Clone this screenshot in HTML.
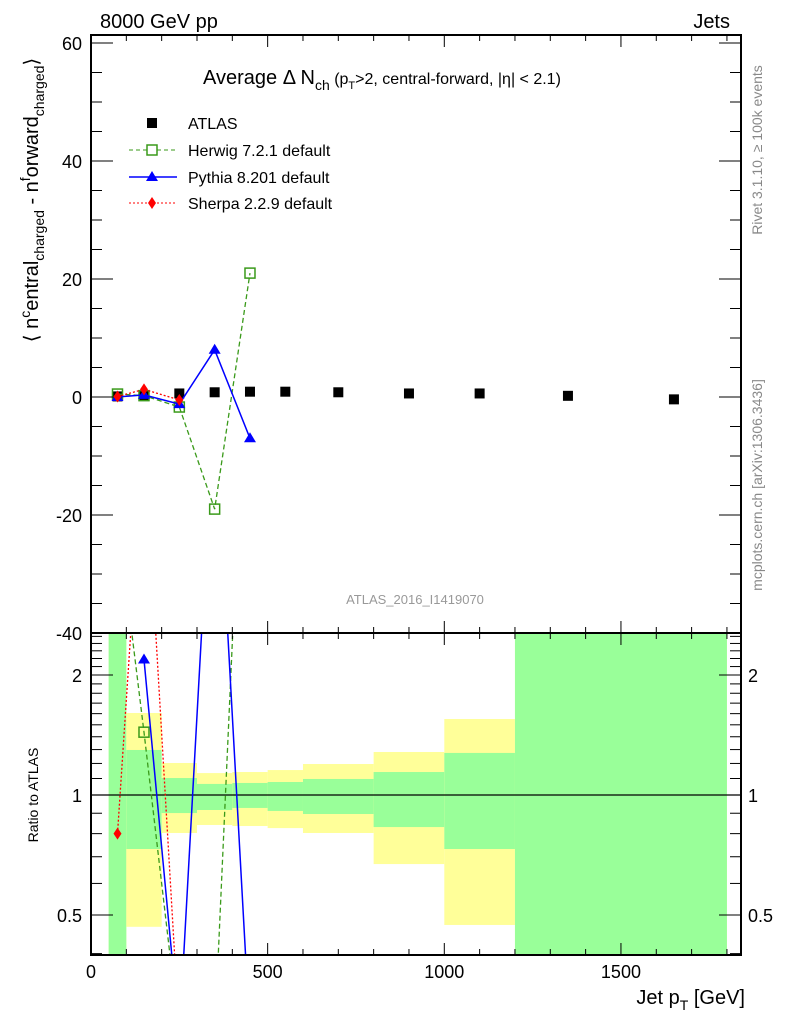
<!DOCTYPE html>
<html><head><meta charset="utf-8"><style>
html,body{margin:0;background:#fff;overflow:hidden;width:786px;height:1024px}
svg{display:block;font-family:"Liberation Sans",sans-serif;overflow:hidden}
</style></head><body>
<svg id="c" width="786" height="1024" viewBox="0 0 786 1024">
<defs>
<clipPath id="cm"><rect x="91" y="35" width="650" height="598"/></clipPath>
<clipPath id="cr"><rect x="91" y="633" width="650" height="322"/></clipPath>
</defs>
<g id="ratioBands" clip-path="url(#cr)"></g>
<g id="ratioLines" clip-path="url(#cr)"></g>
<g id="mainMarks" clip-path="url(#cm)"></g>
<g id="axes"></g>
<text x="100" y="28" font-size="20">8000 GeV pp</text>
<text x="730" y="28" font-size="20" text-anchor="end">Jets</text>
<text x="203" y="84" font-size="20">Average Δ N<tspan font-size="14" dy="6">ch</tspan><tspan dy="-6" font-size="16"> (p</tspan><tspan font-size="11" dy="5">T</tspan><tspan font-size="16" dy="-5">&gt;2, central-forward, |η| &lt; 2.1)</tspan></text>
<g font-size="16">
<rect x="147" y="118" width="10" height="10" fill="#000"/><text x="188" y="129">ATLAS</text>
<line x1="129" y1="150" x2="175" y2="150" stroke="#3a9a1a" stroke-dasharray="4,3"/><rect x="147" y="145" width="10" height="10" fill="#fff" stroke="#3a9a1a" stroke-width="1.5"/><text x="188" y="156">Herwig 7.2.1 default</text>
<line x1="129" y1="177" x2="177" y2="177" stroke="#00f" stroke-width="1.5"/><polygon points="152,171 158,181 146,181" fill="#00f"/><text x="188" y="183">Pythia 8.201 default</text>
<line x1="129" y1="203" x2="177" y2="203" stroke="#f00" stroke-dasharray="2,2"/><polygon points="152,197 156,203 152,209 148,203" fill="#f00"/><text x="188" y="209">Sherpa 2.2.9 default</text>
</g>
<text x="415" y="604" font-size="13" fill="#999" text-anchor="middle">ATLAS_2016_I1419070</text>
<text transform="translate(38,200) rotate(-90)" font-size="20" text-anchor="middle">⟨ n<tspan dy="-8" font-size="14">c</tspan><tspan dy="8">entral</tspan><tspan font-size="14" dy="6">charged</tspan><tspan dy="-6"> - n</tspan><tspan dy="-8" font-size="14">f</tspan><tspan dy="8">orward</tspan><tspan font-size="14" dy="6">charged</tspan><tspan dy="-6">⟩</tspan></text>
<text transform="translate(38,795) rotate(-90)" font-size="14" text-anchor="middle">Ratio to ATLAS</text>
<text x="745" y="1004" font-size="20" text-anchor="end">Jet p<tspan font-size="14" dy="6">T</tspan><tspan dy="-6"> [GeV]</tspan></text>
<text transform="translate(762,150) rotate(-90)" font-size="14" fill="#888" text-anchor="middle">Rivet 3.1.10, ≥ 100k events</text>
<text transform="translate(762,485) rotate(-90)" font-size="14" fill="#888" text-anchor="middle">mcplots.cern.ch [arXiv:1306.3436]</text>
</svg>
<script>
const xBins=[75,150,250,350,450,550,700,900,1100,1350,1650];
const atlasVals=[0.1,0.16,0.6,0.8,0.9,0.9,0.8,0.6,0.6,0.2,-0.4];
const herwigX=[75,150,250,350,450];
const herwigVals=[0.5,0.23,-1.7,-19,21];
const pythiaX=[75,150,250,350,450];
const pythiaVals=[0,0.35,-1.2,8,-7];
const sherpaX=[75,150,250];
const sherpaVals=[0.08,1.3,-0.5];
const bandEdges=[50,100,200,300,400,500,600,800,1000,1200,1800];
const yellowHi=[3,1.606,1.203,1.135,1.142,1.155,1.196,1.282,1.551,3];
const yellowLo=[0.3,0.467,0.803,0.841,0.836,0.826,0.803,0.671,0.472,0.3];
const greenHi=[3,1.297,1.103,1.066,1.072,1.078,1.097,1.142,1.275,3];
const greenLo=[0.3,0.732,0.901,0.917,0.928,0.912,0.896,0.831,0.732,0.3];
const xTicks=[0,500,1000,1500];
const yTicks=[-40,-20,0,20,40,60];
const rTicks=[0.5,1,2];

const NS="http://www.w3.org/2000/svg";
const X=v=>91+v*0.3533;
const Y=v=>397-v*5.9;
const R=v=>795-Math.log10(Math.min(Math.max(v,0.25),100))*398.6;
function mk(p,t,a){const e=document.createElementNS(NS,t);for(const k in a)e.setAttribute(k,a[k]);p.appendChild(e);return e;}
const gb=document.getElementById('ratioBands'),gl=document.getElementById('ratioLines'),gm=document.getElementById('mainMarks'),ga=document.getElementById('axes');

for(let i=0;i<yellowHi.length;i++){
 const x0=X(bandEdges[i]),w=X(bandEdges[i+1])-x0;
 const y=mk(gb,'rect',{x:x0,y:R(yellowHi[i]),width:w,height:R(yellowLo[i])-R(yellowHi[i]),fill:'#ffff99'});
 
 
 const g=mk(gb,'rect',{x:x0,y:R(greenHi[i]),width:w,height:R(greenLo[i])-R(greenHi[i]),fill:'#99ff99'});
 
 
}
mk(gl,'line',{x1:91,x2:741,y1:R(1),y2:R(1),stroke:'#000','stroke-width':1.2});

const series=[
 {xs:herwigX,vs:herwigVals,c:'#3a9a1a',dash:'5,3',w:1.3,m:'sq',n:'herwig'},
 {xs:pythiaX,vs:pythiaVals,c:'#00f',dash:'',w:1.5,m:'tri',n:'pythia'},
 {xs:sherpaX,vs:sherpaVals,c:'#f00',dash:'2,2',w:1.3,m:'dia',n:'sherpa'}];
function marker(p,m,cx,cy,c){
 let e;
 if(m==='sq')e=mk(p,'rect',{x:cx-5,y:cy-5,width:10,height:10,fill:'none',stroke:c,'stroke-width':1.5});
 else if(m==='tri')e=mk(p,'polygon',{points:`${cx},${cy-6} ${cx+6},${cy+4} ${cx-6},${cy+4}`,fill:c});
 else e=mk(p,'polygon',{points:`${cx},${cy-6} ${cx+4},${cy} ${cx},${cy+6} ${cx-4},${cy}`,fill:c});
 return e;
}
xBins.forEach((x,i)=>{const r=mk(gm,'rect',{x:X(x)-5,y:Y(atlasVals[i])-5,width:10,height:10,fill:'#000'});
 
 });
series.forEach(s=>{
 const pts=s.xs.map((x,i)=>X(x)+','+Y(s.vs[i])).join(' ');
 const l=mk(gm,'polyline',{points:pts,fill:'none',stroke:s.c,'stroke-width':s.w,'stroke-dasharray':s.dash});
 
 
 s.xs.forEach((x,i)=>{const e=marker(gm,s.m,X(x),Y(s.vs[i]),s.c);
  
  });
 const rp=[];
 s.xs.forEach((x,i)=>{if(s.vs[i]===0)return;const r=s.vs[i]/atlasVals[i];rp.push(X(x)+','+R(r));});
 const rl=mk(gl,'polyline',{points:rp.join(' '),fill:'none',stroke:s.c,'stroke-width':s.w,'stroke-dasharray':s.dash});
 
 
 s.xs.forEach((x,i)=>{const r=s.vs[i]/atlasVals[i];if(s.vs[i]!==0&&r>0.4&&r<2.5){const e=marker(gl,s.m,X(x),R(r),s.c);
  
  }});
});
// frames
[[35,633],[633,955]].forEach(([t,b])=>{const f=mk(ga,'rect',{x:91,y:t,width:650,height:b-t,fill:'none',stroke:'#000','stroke-width':2});
 
 });
for(let v=0;v<=1800;v+=100){const big=v%500===0,L=big?12:6;
 mk(ga,'line',{x1:X(v),x2:X(v),y1:955,y2:955-L,stroke:'#000'});
 mk(ga,'line',{x1:X(v),x2:X(v),y1:633,y2:633-L,stroke:'#000'});
 mk(ga,'line',{x1:X(v),x2:X(v),y1:35,y2:35+L,stroke:'#000'});
 mk(ga,'line',{x1:X(v),x2:X(v),y1:633,y2:633+L,stroke:'#000'});}
xTicks.forEach(v=>{const t=mk(ga,'text',{x:X(v),y:978,'font-size':18,'text-anchor':'middle'});t.textContent=v;
 
 });
for(let v=-40;v<=60;v+=5){const big=v%20===0,L=big?22:11;
 mk(ga,'line',{x1:91,x2:91+L,y1:Y(v),y2:Y(v),stroke:'#000'});
 mk(ga,'line',{x1:741,x2:741-L,y1:Y(v),y2:Y(v),stroke:'#000'});}
yTicks.forEach(v=>{const t=mk(ga,'text',{x:82,y:Y(v)+7,'font-size':18,'text-anchor':'end'});t.textContent=v;
 
 });
const rMinor=[0.4,0.5,0.6,0.7,0.8,0.9,1,2];
for(let v=1.1;v<2.55;v+=0.1)rMinor.push(v);
rMinor.forEach(v=>{const big=rTicks.some(t=>Math.abs(t-v)<1e-6),L=big?22:11;
 mk(ga,'line',{x1:91,x2:91+L,y1:R(v),y2:R(v),stroke:'#000'});
 mk(ga,'line',{x1:741,x2:741-L,y1:R(v),y2:R(v),stroke:'#000'});});
rTicks.forEach(v=>{[[82,'end'],[748,'start']].forEach(([x,a])=>{const t=mk(ga,'text',{x:x,y:R(v)+7,'font-size':18,'text-anchor':a});t.textContent=v;
 
 });});
</script>
</body></html>
